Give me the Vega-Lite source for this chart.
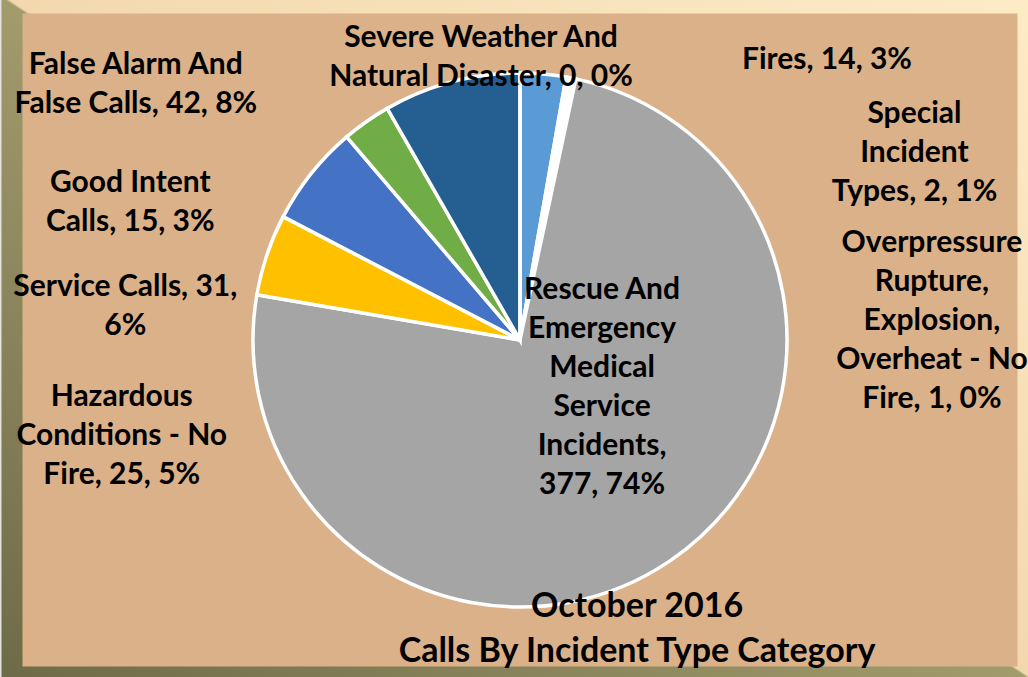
{
  "$schema": "https://vega.github.io/schema/vega-lite/v6.json",
  "autosize": {"type": "none"},
  "width": 1016,
  "height": 674,
  "padding": {"left": 12, "top": 3, "right": 0, "bottom": 0},
  "background": "#E4E2DC",
  "view": {
    "fill": "#DBB189",
    "stroke": {
      "gradient": "linear",
      "x1": 1, "y1": 0, "x2": 0, "y2": 1,
      "stops": [
        {"offset": 0, "color": "#FDEBC6"},
        {"offset": 0.499, "color": "#F3D8AE"},
        {"offset": 0.501, "color": "#A29B6C"},
        {"offset": 1, "color": "#6E6B48"}
      ]
    },
    "strokeWidth": 21
  },
  "title": {
    "text": ["October 2016", "Calls By Incident Type Category"],
    "orient": "bottom",
    "anchor": "middle",
    "offset": -60,
    "dx": 117,
    "baseline": "alphabetic",
    "font": "Lato",
    "fontWeight": "bold",
    "fontSize": 34,
    "lineHeight": 45,
    "color": "#000000"
  },
  "data": {
    "values": [
      {"category": "Fires", "count": 14, "label": "Fires, 14, 3%"},
      {"category": "Special Incident Types", "count": 2, "label": "Special\nIncident\nTypes, 2, 1%"},
      {"category": "Overpressure Rupture, Explosion, Overheat - No Fire", "count": 1, "label": "Overpressure\nRupture,\nExplosion,\nOverheat - No\nFire, 1, 0%"},
      {"category": "Rescue And Emergency Medical Service Incidents", "count": 377, "label": "Rescue And\nEmergency\nMedical\nService\nIncidents,\n377, 74%"},
      {"category": "Hazardous Conditions - No Fire", "count": 25, "label": "Hazardous\nConditions - No\nFire, 25, 5%"},
      {"category": "Service Calls", "count": 31, "label": "Service Calls, 31,\n6%"},
      {"category": "Good Intent Calls", "count": 15, "label": "Good Intent\nCalls, 15, 3%"},
      {"category": "False Alarm And False Calls", "count": 42, "label": "False Alarm And\nFalse Calls, 42, 8%"},
      {"category": "Severe Weather And Natural Disaster", "count": 0, "label": "Severe Weather And\nNatural Disaster, 0, 0%"}
    ]
  },
  "transform": [
    {"window": [{"op": "row_number", "as": "rn"}]},
    {"stack": "count", "groupby": [], "sort": [{"field": "rn", "order": "ascending"}], "as": ["c0", "c1"]},
    {"calculate": "(datum.c0 + datum.c1) / 2", "as": "mid"}
  ],
  "layer": [
    {
      "mark": {"type": "arc", "outerRadius": 267, "stroke": "#FFFFFF", "strokeWidth": 3.5},
      "encoding": {
        "theta": {"field": "c0", "type": "quantitative", "stack": null, "scale": {"zero": true, "nice": false}},
        "theta2": {"field": "c1"},
        "color": {
          "field": "category",
          "type": "nominal",
          "legend": null,
          "scale": {
            "domain": ["Fires", "Special Incident Types", "Overpressure Rupture, Explosion, Overheat - No Fire", "Rescue And Emergency Medical Service Incidents", "Hazardous Conditions - No Fire", "Service Calls", "Good Intent Calls", "False Alarm And False Calls", "Severe Weather And Natural Disaster"],
            "range": ["#5B9BD5", "#FFFFFF", "#FFFFFF", "#A5A5A5", "#FFC000", "#4472C4", "#70AD47", "#255E91", "#9E480E"]
          }
        }
      }
    },
    {
      "transform": [{"filter": "datum.category === 'Fires'"}],
      "mark": {"type": "text", "radius": 300, "dx": 281, "dy": 28},
      "encoding": {"theta": {"field": "mid", "type": "quantitative", "stack": null}, "text": {"field": "label"}}
    },
    {
      "transform": [{"filter": "datum.category === 'Special Incident Types'"}],
      "mark": {"type": "text", "radius": 300, "dx": 339, "dy": 78},
      "encoding": {"theta": {"field": "mid", "type": "quantitative", "stack": null}, "text": {"field": "label"}}
    },
    {
      "transform": [{"filter": "datum.category === 'Overpressure Rupture, Explosion, Overheat - No Fire'"}],
      "mark": {"type": "text", "radius": 300, "dx": 351, "dy": 206},
      "encoding": {"theta": {"field": "mid", "type": "quantitative", "stack": null}, "text": {"field": "label"}}
    },
    {
      "transform": [{"filter": "datum.category === 'Rescue And Emergency Medical Service Incidents'"}],
      "mark": {"type": "text", "radius": 100, "dx": 26, "dy": -124},
      "encoding": {"theta": {"field": "mid", "type": "quantitative", "stack": null}, "text": {"field": "label"}}
    },
    {
      "transform": [{"filter": "datum.category === 'Hazardous Conditions - No Fire'"}],
      "mark": {"type": "text", "radius": 300, "dx": -114, "dy": 162},
      "encoding": {"theta": {"field": "mid", "type": "quantitative", "stack": null}, "text": {"field": "label"}}
    },
    {
      "transform": [{"filter": "datum.category === 'Service Calls'"}],
      "mark": {"type": "text", "radius": 300, "dx": -160, "dy": 143},
      "encoding": {"theta": {"field": "mid", "type": "quantitative", "stack": null}, "text": {"field": "label"}}
    },
    {
      "transform": [{"filter": "datum.category === 'Good Intent Calls'"}],
      "mark": {"type": "text", "radius": 300, "dx": -217, "dy": 97},
      "encoding": {"theta": {"field": "mid", "type": "quantitative", "stack": null}, "text": {"field": "label"}}
    },
    {
      "transform": [{"filter": "datum.category === 'False Alarm And False Calls'"}],
      "mark": {"type": "text", "radius": 300, "dx": -307, "dy": 24},
      "encoding": {"theta": {"field": "mid", "type": "quantitative", "stack": null}, "text": {"field": "label"}}
    },
    {
      "transform": [{"filter": "datum.category === 'Severe Weather And Natural Disaster'"}],
      "mark": {"type": "text", "radius": 300, "dx": -39, "dy": 7},
      "encoding": {"theta": {"field": "mid", "type": "quantitative", "stack": null}, "text": {"field": "label"}}
    }
  ],
  "config": {
    "text": {
      "font": "Lato",
      "fontWeight": "bold",
      "fontSize": 30,
      "lineHeight": 39,
      "lineBreak": "\n",
      "align": "center",
      "baseline": "alphabetic",
      "color": "#000000"
    }
  }
}
